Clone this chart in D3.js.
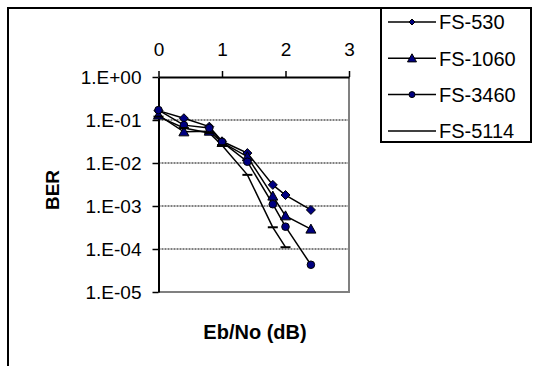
<!DOCTYPE html>
<html>
<head>
<meta charset="utf-8">
<script src="https://cdn.jsdelivr.net/npm/d3@7"></script>
<style>
  body { margin: 0; background: #fff; }
  svg { display: block; font-family: "Liberation Sans", Arial, sans-serif; }
</style>
</head>
<body>
<div id="chart"></div>
<script>
// values
var seriesNames = ["FS-530", "FS-1060", "FS-3460", "FS-5114"];
var xFS530 = [0, 0.4, 0.8, 1.0, 1.4, 1.8, 2.0, 2.4];
var berFS530 = [0.165, 0.11, 0.07, 0.032, 0.017, 0.0031, 0.0018, 0.00081];
var xFS1060 = [0, 0.4, 0.8, 1.0, 1.4, 1.8, 2.0, 2.4];
var berFS1060 = [0.13, 0.053, 0.055, 0.03, 0.014, 0.0017, 0.00059, 0.00029];
var xFS3460 = [0, 0.4, 0.8, 1.0, 1.4, 1.8, 2.0, 2.4];
var berFS3460 = [0.17, 0.076, 0.065, 0.031, 0.0107, 0.0011, 0.00033, 0.000043];
var xFS5114 = [0, 0.4, 0.8, 1.0, 1.4, 1.8, 2.0];
var berFS5114 = [0.12, 0.065, 0.05, 0.026, 0.0053, 0.00032, 0.00011];
var xTicks = [0, 1, 2, 3];
var yTicks = [1, 1e-1, 1e-2, 1e-3, 1e-4, 1e-5];
var yTickLabels = ["1.E+00", "1.E-01", "1.E-02", "1.E-03", "1.E-04", "1.E-05"];
var markerKinds = ["diamond", "triangle", "circle", "dash"];

var width = 533, height = 366,
    plotLeft = 158.5, plotRight = 349, plotTop = 77, plotBottom = 292;

var svg = d3.select("#chart").append("svg")
    .attr("width", width)
    .attr("height", height);

var x = d3.scaleLinear().domain([0, 3]).range([plotLeft, plotRight]);
var y = d3.scaleLog().domain([1e-5, 1]).range([plotBottom, plotTop]);

// outer chart border (left + top)
svg.append("path")
    .attr("d", "M8,366V8H531")
    .attr("fill", "none")
    .attr("stroke", "#000")
    .attr("stroke-width", 2);

// gridlines
svg.append("g").selectAll("line")
    .data(yTicks.slice(1, 5))
    .enter().append("line")
    .attr("x1", plotLeft).attr("x2", plotRight)
    .attr("y1", function(d) { return y(d); })
    .attr("y2", function(d) { return y(d); })
    .attr("stroke", "#000")
    .attr("stroke-width", 1)
    .attr("stroke-dasharray", "2,1");

// plot frame right / bottom in gray
svg.append("path")
    .attr("d", "M" + plotLeft + "," + plotBottom + "H" + plotRight + "V" + plotTop)
    .attr("fill", "none")
    .attr("stroke", "#808080")
    .attr("stroke-width", 2);

// axes
var xAxis = svg.append("g")
    .attr("transform", "translate(0," + plotTop + ")")
    .call(d3.axisTop(x).tickValues(xTicks).tickSize(6).tickSizeOuter(0).tickFormat(d3.format("d")));
var yAxis = svg.append("g")
    .attr("transform", "translate(" + plotLeft + ",0)")
    .call(d3.axisLeft(y).tickValues(yTicks).tickSize(6).tickSizeOuter(0).tickPadding(11)
        .tickFormat(function(d, i) { return yTickLabels[i]; }));

[xAxis, yAxis].forEach(function(a) {
    a.select(".domain").attr("stroke", "#000").attr("stroke-width", 2);
    a.selectAll(".tick line").attr("stroke", "#000").attr("stroke-width", 1.5);
    a.selectAll(".tick text")
        .attr("fill", "#000")
        .style("font-size", "19px")
        .style("font-family", "Liberation Sans, Arial, sans-serif");
});
xAxis.selectAll(".tick text").attr("y", -28).attr("dy", "0.35em");

// axis titles
svg.append("text")
    .attr("transform", "translate(52,190) rotate(-90)")
    .attr("text-anchor", "middle")
    .attr("dy", "0.35em")
    .style("font-size", "19px")
    .style("font-weight", "bold")
    .text("BER");
svg.append("text")
    .attr("x", 255).attr("y", 332)
    .attr("text-anchor", "middle")
    .attr("dy", "0.35em")
    .style("font-size", "20px")
    .style("font-weight", "bold")
    .text("Eb/No (dB)");

// series
var allX = [xFS530, xFS1060, xFS3460, xFS5114];
var allY = [berFS530, berFS1060, berFS3460, berFS5114];
var series = seriesNames.map(function(name, i) {
    return {
        name: name,
        kind: markerKinds[i],
        points: allX[i].map(function(v, j) { return { x: v, y: allY[i][j] }; })
    };
});

var line = d3.line()
    .x(function(d) { return x(d.x); })
    .y(function(d) { return y(d.y); });

var markerPath = function(kind, s) {
    if (kind === "diamond") return "M0," + (-s) + "L" + s + ",0L0," + s + "L" + (-s) + ",0Z";
    if (kind === "triangle") return "M0," + (-s) + "L" + s + "," + (s * 0.8) + "L" + (-s) + "," + (s * 0.8) + "Z";
    if (kind === "dash") return "M" + (-s) + ",0H" + s;
    return d3.symbol().type(d3.symbolCircle).size(Math.PI * s * s)();
};

var drawMarker = function(g, kind, s) {
    g.append("path")
        .attr("d", markerPath(kind, s))
        .attr("fill", kind === "dash" ? "none" : "#000080")
        .attr("stroke", "#000")
        .attr("stroke-width", kind === "dash" ? 2 : 1);
};

var sizes = { diamond: 4.5, triangle: 5, circle: 3.8, dash: 5 };

series.forEach(function(s) {
    svg.append("path")
        .datum(s.points)
        .attr("d", line)
        .attr("fill", "none")
        .attr("stroke", "#000")
        .attr("stroke-width", 1.5);
});
series.forEach(function(s) {
    svg.append("g").selectAll("g")
        .data(s.points)
        .enter().append("g")
        .attr("transform", function(d) { return "translate(" + x(d.x) + "," + y(d.y) + ")"; })
        .each(function() { drawMarker(d3.select(this), s.kind, sizes[s.kind]); });
});

// legend
var legend = svg.append("g");
legend.append("rect")
    .attr("x", 381).attr("y", 8)
    .attr("width", 150).attr("height", 134)
    .attr("fill", "#fff")
    .attr("stroke", "#000")
    .attr("stroke-width", 2);

var item = legend.selectAll(".item")
    .data(series)
    .enter().append("g")
    .attr("class", "item")
    .attr("transform", function(d, i) { return "translate(0," + (22 + i * 36.3) + ")"; });
item.append("line")
    .attr("x1", 388).attr("x2", 436)
    .attr("stroke", "#000")
    .attr("stroke-width", 1.5);
item.each(function(d) {
    if (d.kind !== "dash") {
        var g = d3.select(this).append("g").attr("transform", "translate(412,0)");
        drawMarker(g, d.kind, d.kind === "triangle" ? 4.5 : 3);
    }
});
item.append("text")
    .attr("x", 439)
    .attr("dy", "0.36em")
    .style("font-size", "20px")
    .text(function(d) { return d.name; });
</script>
</body>
</html>
